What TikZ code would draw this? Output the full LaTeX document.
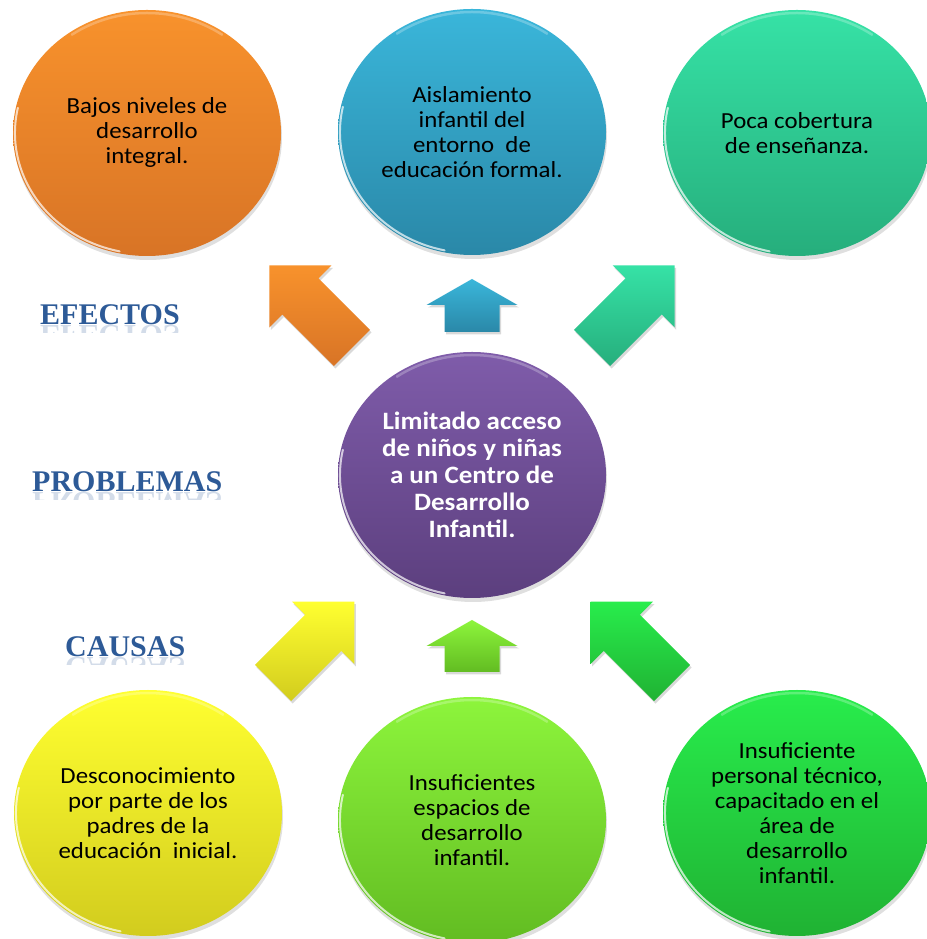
\documentclass[tikz,border=0pt]{standalone}
\usepackage{fontspec}
\setmainfont{Carlito}[FakeStretch=1.08]
\newfontfamily\lblfont{Liberation Serif}
\usetikzlibrary{shapes.geometric,shadows,calc}
\definecolor{oTop}{HTML}{F8922C}
\definecolor{oBot}{HTML}{D87426}
\definecolor{bTop}{HTML}{3AB6DA}
\definecolor{bBot}{HTML}{2A88A8}
\definecolor{tTop}{HTML}{36E2A6}
\definecolor{tBot}{HTML}{26AE7C}
\definecolor{pTop}{HTML}{7F5CAA}
\definecolor{pBot}{HTML}{5C3F7E}
\definecolor{yTop}{HTML}{FFFF30}
\definecolor{yBot}{HTML}{D2CC1E}
\definecolor{gTop}{HTML}{8DF53C}
\definecolor{gBot}{HTML}{62BC22}
\definecolor{rTop}{HTML}{28ED4C}
\definecolor{rBot}{HTML}{20B233}
\definecolor{lblblue}{HTML}{2D5A97}
\newcommand{\blockarrow}[8]{% x, y, angle, length, shaft half, head half, head length, colours
  \begin{scope}[shift={(#1,#2)}, rotate=#3]
    \path[blk, #8] (0,-#5) -- (#4-#7,-#5) -- (#4-#7,-#6) -- (#4,0) -- (#4-#7,#6) -- (#4-#7,#5) -- (0,#5) -- cycle;
  \end{scope}}
\newcommand{\rimarc}[1]{%
  \draw[rim] ($(#1.center)+(168:132 and 121)$) arc[start angle=168, end angle=258, x radius=132, y radius=121];
  \draw[toprim] ($(#1.center)+(55:131 and 120)$) arc[start angle=55, end angle=125, x radius=131, y radius=120];}
\begin{document}
\begin{tikzpicture}[x=1pt,y=1pt,
  bubble/.style={ellipse, minimum width=268pt, minimum height=246pt, inner sep=0pt, align=center,
    font=\fontsize{23}{25}\selectfont, text=black,
    drop shadow={shadow xshift=1pt, shadow yshift=-4pt, opacity=0.25}},
  rim/.style={white, line width=2pt, opacity=0.7, line cap=round},
  toprim/.style={white, line width=2.5pt, opacity=0.25, line cap=round},
  blk/.style={drop shadow={shadow xshift=1.5pt, shadow yshift=-2.5pt, opacity=0.3}},
  lbl/.style={anchor=base west, inner sep=0pt, font=\lblfont\bfseries\fontsize{30}{30}\selectfont, text=lblblue},
  refl/.style={lbl, yscale=-1, text=lblblue!70, opacity=0.3}]
\useasboundingbox (0,0) rectangle (926,939);

% effects
\node[bubble, top color=oTop, bottom color=oBot] (O) at (147,806) {Bajos niveles de\\desarrollo\\integral.};
\node[bubble, top color=bTop, bottom color=bBot] (B) at (472,807) {Aislamiento\\infantil del\\entorno~~de\\educación formal.};
\node[bubble, top color=tTop, bottom color=tBot] (T) at (797,806) {Poca cobertura\\de enseñanza.};
% problem
\node[bubble, top color=pTop, bottom color=pBot, text=white, font=\bfseries\fontsize{25}{27}\selectfont] (P) at (472,464)
  {Limitado acceso\\de niños y niñas\\a un Centro de\\Desarrollo\\Infantil.};
% causes
\node[bubble, top color=yTop, bottom color=yBot] (Y) at (148,126) {Desconocimiento\\por parte de los\\padres de la\\educación~~inicial.};
\node[bubble, top color=gTop, bottom color=gBot] (G) at (472,119) {Insuficientes\\espacios de\\desarrollo\\infantil.};
\node[bubble, top color=rTop, bottom color=rBot] (R) at (797,126) {Insuficiente\\personal técnico,\\capacitado en el\\área de\\desarrollo\\infantil.};

\foreach \n in {O,B,T,P,Y,G,R}{\rimarc{\n}}

% arrows
\blockarrow{352}{591}{135}{117}{25.5}{44}{44}{top color=oTop, bottom color=oBot}
\blockarrow{472}{607}{90}{53}{27.5}{45.5}{26}{top color=bTop, bottom color=bBot}
\blockarrow{592}{591}{45}{117}{25.5}{44}{44}{top color=tTop, bottom color=tBot}
\blockarrow{273}{256}{45}{115}{25.5}{44}{44}{top color=yTop, bottom color=yBot}
\blockarrow{472}{267}{90}{52}{27.5}{45.5}{26}{top color=gTop, bottom color=gBot}
\blockarrow{672}{256}{135}{115}{25.5}{44}{44}{top color=rTop, bottom color=rBot}

% labels
\node[lbl] (efectos) at (40,614) {EFECTOS};
\node[lbl] (problemas) at (32,447) {PROBLEMAS};
\node[lbl] (causas) at (65,282) {CAUSAS};
\begin{scope}
  \clip (0,614) rectangle (250,606);
  \node[refl] (efectosR) at (40,613) {EFECTOS};
\end{scope}
\begin{scope}
  \clip (0,447) rectangle (250,439);
  \node[refl] (problemasR) at (32,446) {PROBLEMAS};
\end{scope}
\begin{scope}
  \clip (0,282) rectangle (250,274);
  \node[refl] (causasR) at (65,281) {CAUSAS};
\end{scope}
\end{tikzpicture}
\end{document}
